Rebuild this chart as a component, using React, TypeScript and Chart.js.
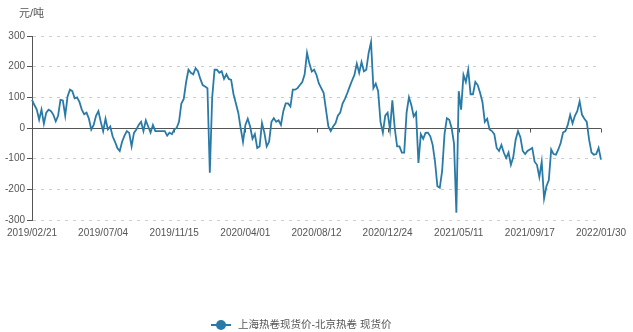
import React, { useEffect, useRef } from "react";
import { Chart, registerables } from "chart.js";

Chart.register(...registerables);

const tickLabels = [
  "2019/02/21", "2019/07/04", "2019/11/15", "2020/04/01", "2020/08/12",
  "2020/12/24", "2021/05/11", "2021/09/17", "2022/01/30",
];
const pointsPerTick = 30;
const seriesName = "上海热卷现货价-北京热卷 现货价";
const unitLabel = "元/吨";

const spread2019 = [
  92, 75, 60, 27, 60, 14, 50, 60, 55, 43, 22, 40, 92, 90, 40, 103, 125, 120, 97, 100,
  85, 60, 45, 50, 30, -5, 10, 40, 55, 20, -10, 30, -5, 5, -27, -45, -65, -75, -45, -25,
  -10, -16, -60, -16, -5, 10, 20, -10, 25, 5, -15, 10, -10, -10, -10, -10, -10, -25, -15, -20,
  -5, 0, 20, 80, 95, 150, 190, 180, 175, 195, 185, 160, 140, 135, 130, -146, 100, 190, 190, 180,
];
const spread2020 = [
  185, 160, 175, 160, 157, 110, 80, 50, 0, -45, 10, 30, 5, -35, -20, -65, -60, 16, -15, -60,
  -45, 20, 32, 20, 25, 10, 55, 80, 80, 70, 125, 125, 130, 140, 150, 175, 245, 210, 184, 190,
  173, 145, 130, 115, 60, 5, -10, 5, 15, 40, 50, 80, 95, 114, 135, 155, 173, 210, 180, 215,
  185, 190, 245, 280, 130, 145, 120, 20, -15, 40, 50, -5, 90, 0, -60, -60, -80, -80, 50, 100,
];
const spread2021 = [
  75, 38, 50, -114, -20, -35, -16, -15, -27, -55, -110, -190, -195, -140, -20, 32, 27, 0, -50, -276,
  120, 60, 173, 150, 190, 110, 110, 150, 140, 115, 85, 20, 30, -5, -10, -20, -65, -75, -55, -80,
  -98, -80, -120, -95, -38, -10, -30, -75, -85, -75, -70, -65, -110, -120, -160, -110, -230, -190, -170, -70,
  -85, -87, -70, -49, -15, -10, 10, 43, 15, 40, 55, 87, 43, 30, 20, -38, -80, -87, -85, -65,
  -103,
];
const spread = [...spread2019, ...spread2020, ...spread2021];

const yMin = -300;
const yMax = 300;
const yStep = 100;

const lineColor = "#2a7aa8";
const textColor = "#555555";
const fontFamily = "'Liberation Sans', Arial, 'Noto Sans CJK SC', sans-serif";

export default function App() {
  const ref = useRef<HTMLCanvasElement | null>(null);

  useEffect(() => {
    document.body.style.margin = "0";
    const canvas = ref.current;
    if (!canvas) return;
    const categories = spread.map((_, i) =>
      i % pointsPerTick === 0 ? tickLabels[i / pointsPerTick] ?? "" : ""
    );

    const decor = {
      id: "decor",
      beforeDatasetsDraw(chart: any) {
        const { ctx, chartArea, scales } = chart;
        const y0 = Math.round(scales.y.getPixelForValue(0)) + 0.5;
        ctx.save();
        ctx.strokeStyle = "#555555";
        ctx.lineWidth = 1;
        ctx.beginPath();
        ctx.moveTo(chartArea.left, y0);
        ctx.lineTo(chartArea.right, y0);
        categories.forEach((c, i) => {
          if (c) {
            const x = Math.round(scales.x.getPixelForValue(i)) + 0.5;
            ctx.moveTo(x, y0);
            ctx.lineTo(x, y0 + 4);
          }
        });
        ctx.stroke();
        ctx.restore();
      },
      afterDraw(chart: any) {
        const { ctx, chartArea } = chart;
        ctx.save();
        ctx.fillStyle = textColor;
        ctx.font = `11px ${fontFamily}`;
        ctx.textBaseline = "middle";
        ctx.textAlign = "left";
        ctx.fillText(unitLabel, chartArea.left - 13, chartArea.top - 22);
        // legend
        const ly = 325;
        const lx = 211;
        ctx.strokeStyle = lineColor;
        ctx.lineWidth = 2;
        ctx.beginPath();
        ctx.moveTo(lx, ly);
        ctx.lineTo(lx + 20, ly);
        ctx.stroke();
        ctx.fillStyle = lineColor;
        ctx.beginPath();
        ctx.arc(lx + 10, ly, 5, 0, Math.PI * 2);
        ctx.fill();
        ctx.fillStyle = textColor;
        ctx.font = `10.5px ${fontFamily}`;
        ctx.fillText(seriesName, lx + 27, ly);
        ctx.restore();
      },
    };

    const chart = new Chart(canvas, {
      type: "line",
      data: {
        labels: categories,
        datasets: [
          {
            label: seriesName,
            data: spread,
            borderColor: lineColor,
            backgroundColor: lineColor,
            borderWidth: 1.8,
            pointRadius: 0,
            tension: 0,
          },
        ],
      },
      options: {
        responsive: false,
        animation: false,
        layout: { padding: { top: 36, right: 29, bottom: 92, left: 0 } },
        plugins: { legend: { display: false }, tooltip: { enabled: false } },
        scales: {
          x: {
            type: "category",
            grid: { display: false, drawTicks: false },
            border: { display: false },
            afterFit: (s: any) => { s.height = 20; },
            ticks: {
              autoSkip: false,
              maxRotation: 0,
              padding: 7,
              color: textColor,
              font: { size: 10, family: fontFamily },
              callback: (_v: any, i: number) => (categories[i] ? categories[i] : null),
            },
          },
          y: {
            min: yMin,
            max: yMax,
            afterFit: (s: any) => { s.width = 29; },
            grid: {
              color: (c: any) => (c.tick && c.tick.value === 0 ? "rgba(0,0,0,0)" : "#cccccc"),
              tickColor: "#555555",
              tickLength: 5,
              lineWidth: 1,
            },
            border: { display: true, color: "#555555", width: 1, dash: [3, 5] },
            ticks: {
              stepSize: yStep,
              padding: 2,
              color: textColor,
              font: { size: 10, family: fontFamily },
            },
          },
        },
      },
      plugins: [decor],
    });
    return () => chart.destroy();
  }, []);

  return (
    <div style={{ width: 633, height: 332 }}>
      <canvas ref={ref} width={633} height={332} style={{ display: "block" }} />
    </div>
  );
}
